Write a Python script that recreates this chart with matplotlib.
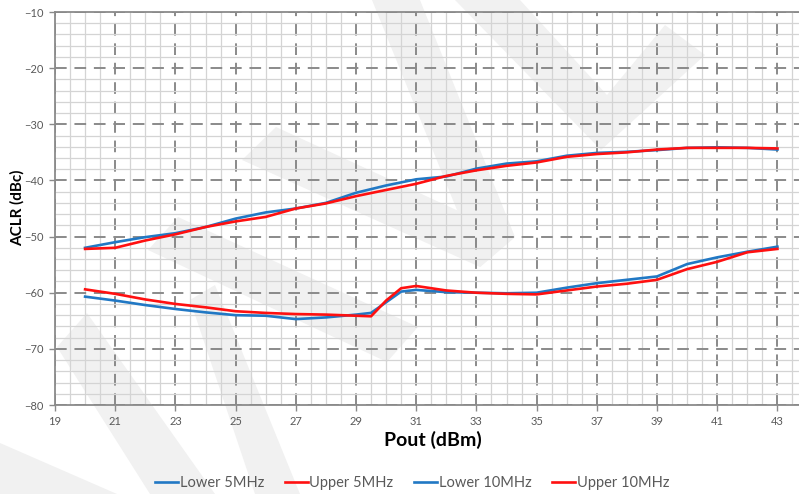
import numpy as np
import matplotlib
matplotlib.use("Agg")
import matplotlib.pyplot as plt
from matplotlib.patches import Polygon
from matplotlib.ticker import MultipleLocator

plt.rcParams["font.family"] = ["Lato", "DejaVu Sans"]

# Pout (dBm) sample points
pout_5 = [20, 21, 22, 23, 24, 25, 26, 27, 28, 29, 30, 31, 32, 33, 34, 35,
          36, 37, 38, 39, 40, 41, 42, 43]
lower_5mhz = [-52.0, -51.0, -50.1, -49.4, -48.3, -46.8, -45.7, -45.0, -44.0,
              -42.2, -40.9, -39.8, -39.3, -37.9, -37.0, -36.6, -35.6, -35.1,
              -34.9, -34.6, -34.2, -34.1, -34.2, -34.5]
upper_5mhz = [-52.2, -52.0, -50.7, -49.6, -48.3, -47.3, -46.5, -45.0, -44.1,
              -42.8, -41.7, -40.6, -39.2, -38.2, -37.4, -36.8, -35.8, -35.3,
              -35.0, -34.5, -34.2, -34.2, -34.2, -34.3]

pout_10 = [20, 21, 22, 23, 24, 25, 26, 27, 28, 29, 29.5, 30, 30.5, 31, 32,
           33, 34, 35, 36, 37, 38, 39, 40, 41, 42, 43]
lower_10mhz = [-60.7, -61.4, -62.2, -62.9, -63.5, -64.0, -64.1, -64.7, -64.4,
               -63.9, -63.6, -61.7, -59.8, -59.5, -59.9, -60.0, -60.1, -60.0,
               -59.1, -58.3, -57.7, -57.1, -54.9, -53.7, -52.7, -51.8]
upper_10mhz = [-59.4, -60.2, -61.2, -62.0, -62.6, -63.3, -63.6, -63.8, -63.9,
               -64.1, -64.2, -61.4, -59.2, -58.8, -59.6, -60.0, -60.2, -60.3,
               -59.6, -58.9, -58.4, -57.7, -55.8, -54.5, -52.8, -52.2]

BLUE = "#2178C4"
RED = "#FF1010"
GRID_DARK = "#8a8a8a"
GRID_LIGHT = "#d4d4d4"
TEXT_GRAY = "#595959"

W, H = 799, 494

# faint background watermark strokes (pixel coords, y from top)
WATERMARK = [
    [(148, 250), (178, 217), (418, 327), (387, 362)],
    [(242, 160), (276, 127), (515, 237), (480, 267)],
    [(372, 0), (420, 0), (515, 237), (480, 267)],
    [(455, 0), (520, 0), (607, 95), (665, 25), (705, 55), (601, 150)],
    [(57, 347), (87, 313), (215, 494), (150, 494)],
    [(0, 443), (0, 494), (117, 494)],
    [(190, 300), (215, 285), (300, 494), (255, 494)],
]

fig = plt.figure(figsize=(W / 100, H / 100), dpi=100)

for pts in WATERMARK:
    xy = [(x / W, 1 - y / H) for x, y in pts]
    fig.patches.append(Polygon(xy, closed=True, transform=fig.transFigure,
                               facecolor="#f1f1f1", edgecolor="none", zorder=-5))

ax_left, ax_right = 55 / W, 1.0
ax_top, ax_bottom = 1 - 12 / H, 1 - 405 / H
ax = fig.add_axes([ax_left, ax_bottom, ax_right - ax_left, ax_top - ax_bottom])
ax.set_facecolor("none")
ax.set_zorder(2)

px_per_unit = 30.1
ax.set_xlim(19, 19 + (W - 55) / px_per_unit)
ax.set_ylim(-80, -10)

ax.xaxis.set_major_locator(MultipleLocator(2))
ax.xaxis.set_minor_locator(MultipleLocator(0.5))
ax.yaxis.set_major_locator(MultipleLocator(10))
ax.yaxis.set_minor_locator(MultipleLocator(2))

ax.grid(which="minor", color=GRID_LIGHT, linewidth=0.9, linestyle="-")
ax.grid(which="major", color=GRID_DARK, linewidth=1.4, linestyle=(0, (6, 4)))
ax.set_axisbelow(True)

ax.set_xticks(np.arange(19, 44, 2))
ax.set_xticklabels([str(v) for v in range(19, 44, 2)])

for side in ["left", "bottom", "top"]:
    ax.spines[side].set_color(GRID_DARK)
    ax.spines[side].set_linewidth(1.3)
ax.spines["right"].set_visible(False)

ax.tick_params(which="major", direction="out", length=4, width=1,
               color=GRID_DARK, labelsize=8, labelcolor=TEXT_GRAY, pad=4)
ax.tick_params(which="minor", length=0)

ax.plot(pout_5, lower_5mhz, color=BLUE, lw=1.9, label="Lower 5MHz", zorder=3)
ax.plot(pout_5, upper_5mhz, color=RED, lw=1.9, label="Upper 5MHz", zorder=4)
ax.plot(pout_10, lower_10mhz, color=BLUE, lw=1.9, label="Lower 10MHz", zorder=3)
ax.plot(pout_10, upper_10mhz, color=RED, lw=1.9, label="Upper 10MHz", zorder=4)

fig.text(17 / W, 1 - 208 / H, "ACLR (dBc)", rotation=90, ha="center",
         va="center", fontsize=11, fontweight="bold")
fig.text(433 / W, 1 - 440 / H, "Pout (dBm)", ha="center", va="center",
         fontsize=14, fontweight="bold")

fig.legend(loc="center", bbox_to_anchor=(412 / W, 1 - 483 / H), ncol=4,
           frameon=False, fontsize=10.5, handlelength=1.6, handletextpad=0.1,
           columnspacing=1.4, labelcolor=TEXT_GRAY)

fig.savefig("out.png", dpi=100)
